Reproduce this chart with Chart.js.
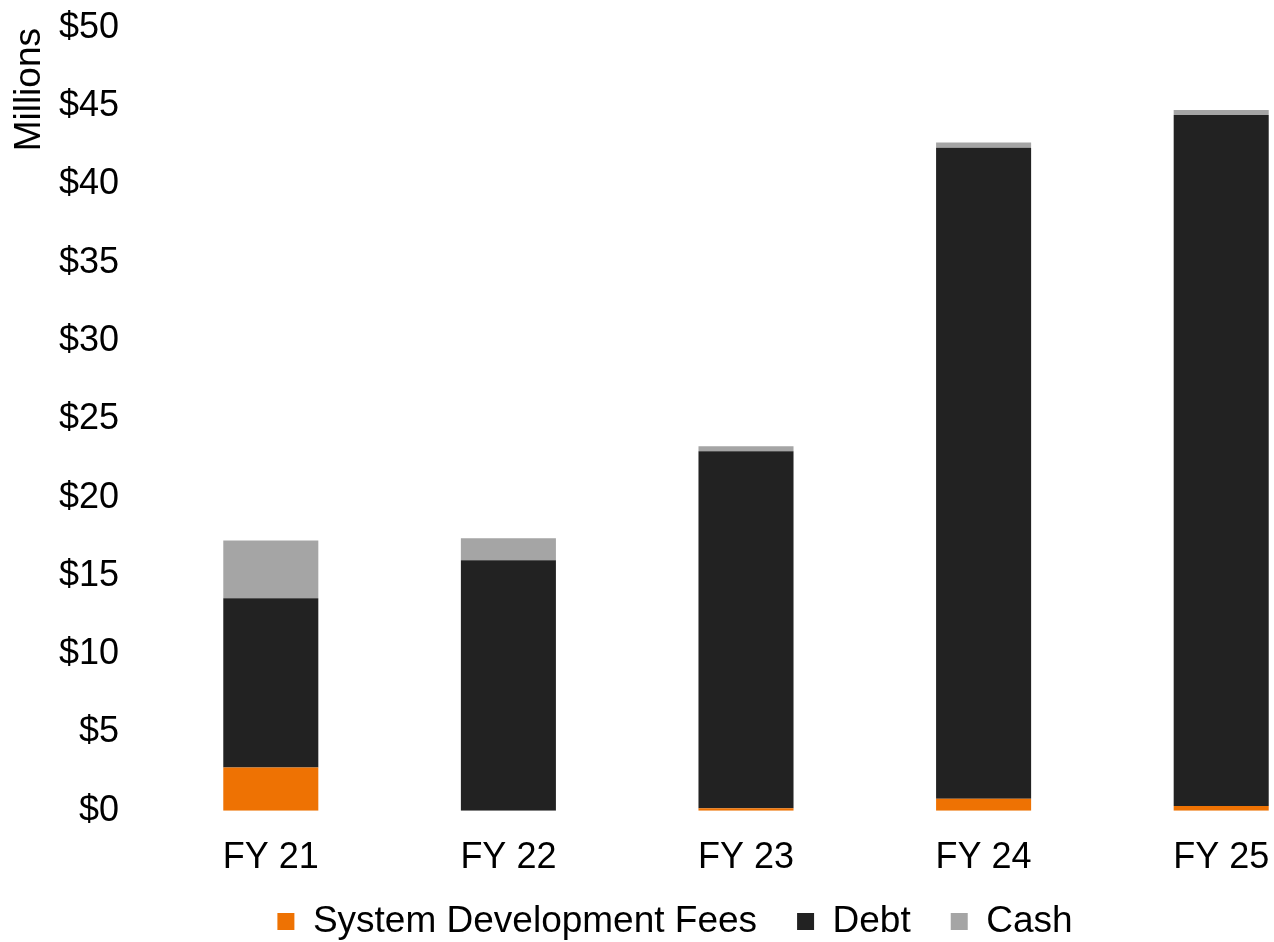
<!DOCTYPE html>
<html lang="en">
<head>
    <meta charset="UTF-8">
    <title>Funding Sources</title>
    <script src="https://cdn.jsdelivr.net/npm/chart.js"></script>
    <style>
        body {
            margin: 0;
            background: #ffffff;
            overflow: hidden;
        }
        .chart-box {
            width: 1340px;
            height: 993px;
        }
    </style>
</head>
<body>
    <div class="chart-box">
        <canvas id="fundingChart" width="1340" height="993"></canvas>
    </div>
    <script>
        // data (in $ millions)
        const years = ['FY 21', 'FY 22', 'FY 23', 'FY 24', 'FY 25'];
        const systemDevFees = [2.76, 0, 0.17, 0.77, 0.30];
        const debt = [10.82, 16.01, 22.79, 41.58, 44.15];
        const cash = [3.68, 1.40, 0.32, 0.33, 0.32];

        const font = "'Liberation Sans', Arial, sans-serif";

        // legend padding is also the vertical gap, so pull the legend up a bit after layout
        const legendShift = {
            id: 'legendShift',
            afterLayout(chart) {
                const lg = chart.legend;
                lg.top -= 43; lg.bottom -= 43;
                lg.left += 5; lg.right += 5;
            }
        };

        const ctx = document.getElementById('fundingChart').getContext('2d');
        const fundingChart = new Chart(ctx, {
            type: 'bar',
            data: {
                labels: years,
                datasets: [
                    { label: 'System Development Fees', data: systemDevFees, backgroundColor: '#EE7203' },
                    { label: 'Debt', data: debt, backgroundColor: '#222222' },
                    { label: 'Cash', data: cash, backgroundColor: '#A5A5A5' }
                ]
            },
            options: {
                responsive: false,
                animation: false,
                layout: { padding: 0 },
                datasets: {
                    bar: { barPercentage: 0.4, categoryPercentage: 1.0, borderWidth: 0 }
                },
                plugins: {
                    legend: {
                        position: 'bottom',
                        labels: {
                            color: '#000',
                            font: { family: font, size: 37 },
                            boxWidth: 17,
                            boxHeight: 17,
                            padding: 40
                        }
                    },
                    tooltip: { enabled: false }
                },
                scales: {
                    x: {
                        stacked: true,
                        grid: { display: false, drawTicks: false },
                        border: { display: false },
                        ticks: { color: '#000', font: { family: font, size: 36 }, padding: 26 }
                    },
                    y: {
                        stacked: true,
                        min: 0,
                        max: 50,
                        grid: { display: false, drawTicks: false },
                        border: { display: false },
                        ticks: {
                            stepSize: 5,
                            color: '#000',
                            padding: 33,
                            font: { family: font, size: 36 },
                            callback: v => '$' + v
                        },
                        title: {
                            display: true,
                            text: 'Millions',
                            align: 'end',
                            color: '#000',
                            font: { family: font, size: 37 },
                            padding: { top: 8, bottom: 0 }
                        },
                        afterFit: scale => {
                            scale.width = 152;
                            scale.paddingTop = 28;
                            scale.paddingBottom = 0;
                        }
                    }
                }
            },
            plugins: [legendShift]
        });
    </script>
</body>
</html>
